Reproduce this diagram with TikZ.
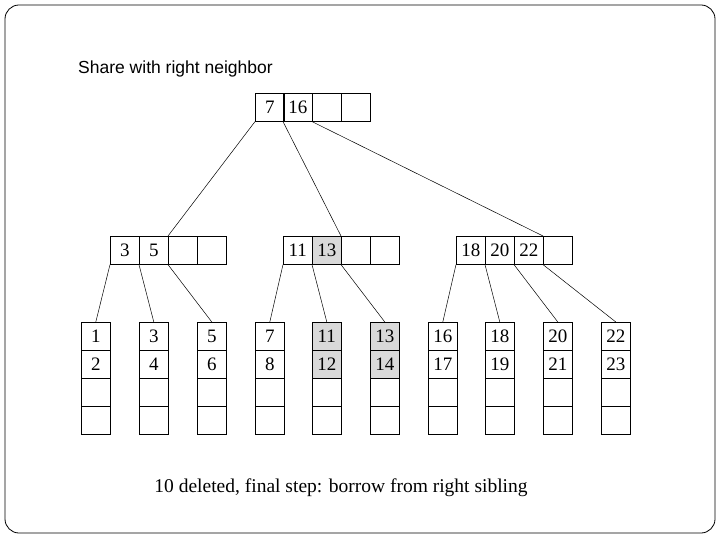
\documentclass[tikz,border=0pt]{standalone}
\usepackage{fontspec}
\setmainfont{Liberation Serif}
\newfontfamily\sansf{Liberation Sans}
\begin{document}
\begin{tikzpicture}[x=1pt,y=-1pt,
  cell/.style={draw,line width=0.6pt,minimum width=29pt,minimum height=28pt,inner sep=0pt,anchor=north west,font=\fontsize{19}{19}\selectfont},
  sh/.style={fill=black!15},
  ln/.style={line width=0.5pt}]
\useasboundingbox (0,0) rectangle (720,540);
\draw[line width=0.8pt,rounded corners=14pt] (5,5) rectangle (715,533);
\node[anchor=west,inner sep=0pt,font=\sansf\fontsize{17.5}{17.5}\selectfont] (t) at (78,69) {Share with right neighbor};
% root
\node[cell] (r1) at (255,93) {7};
\node[cell] (r2) at (283,93) {16};
\node[cell] (r3) at (312,93) {};
\node[cell] (r4) at (341,93) {};
% level 2
\node[cell] (a1) at (110,236) {3};
\node[cell] (a2) at (139,236) {5};
\node[cell] (a3) at (168,236) {};
\node[cell] (a4) at (197,236) {};
\node[cell] (b1) at (283,236) {11};
\node[cell,sh] (b2) at (312,236) {13};
\node[cell] (b3) at (341,236) {};
\node[cell] (b4) at (370,236) {};
\node[cell] (c1) at (456,236) {18};
\node[cell] (c2) at (485,236) {20};
\node[cell] (c3) at (514,236) {22};
\node[cell] (c4) at (543,236) {};
% leaves
\foreach \n/\x/\p/\q/\s in {l1/81/1/2/0,l2/139/3/4/0,l3/197/5/6/0,l4/255/7/8/0,l5/312/11/12/1,l6/370/13/14/1,l7/428/16/17/0,l8/485/18/19/0,l9/543/20/21/0,l10/601/22/23/0}{
  \ifnum\s=1
  \node[cell,sh] (\n a) at (\x,322) {\p};
  \node[cell,sh] (\n b) at (\x,350) {\q};
  \else
  \node[cell] (\n a) at (\x,322) {\p};
  \node[cell] (\n b) at (\x,350) {\q};
  \fi
  \node[cell] (\n c) at (\x,378) {};
  \node[cell] (\n d) at (\x,406) {};
}
% connectors
\draw[ln] (r1.south west) -- (a3.north west);
\draw[ln] (r2.south west) -- (b3.north west);
\draw[ln] (r3.south west) -- (c4.north west);
\draw[ln] (a1.south west) -- (l1a.north);
\draw[ln] (a2.south west) -- (l2a.north);
\draw[ln] (a3.south west) -- (l3a.north);
\draw[ln] (b1.south west) -- (l4a.north);
\draw[ln] (b2.south west) -- (l5a.north);
\draw[ln] (b3.south west) -- (l6a.north);
\draw[ln] (c1.south west) -- (l7a.north);
\draw[ln] (c2.south west) -- (l8a.north);
\draw[ln] (c3.south west) -- (l9a.north);
\draw[ln] (c4.south west) -- (l10a.north);
\node[font=\fontsize{19.5}{19.5}\selectfont] (cap) at (341,488) {10 deleted, final step: borrow from right sibling};
\end{tikzpicture}
\end{document}
